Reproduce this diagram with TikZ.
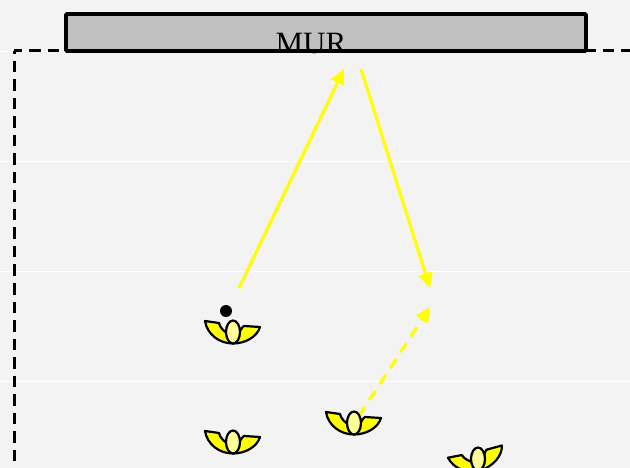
\documentclass[tikz,border=0pt]{standalone}
\usepackage{fontspec}
\setmainfont{Liberation Serif}
\usetikzlibrary{arrows.meta, shapes.geometric}
\definecolor{fond}{HTML}{F3F3F3}
\definecolor{gris}{HTML}{C0C0C0}
\definecolor{tete}{HTML}{FFFF99}
\definecolor{jaune}{RGB}{255,255,0}
\begin{document}
\begin{tikzpicture}[
x=1pt, y=-1pt,
passe/.style={jaune, line width=3.2pt, -{Triangle[length=15pt, width=14pt]}},
limite/.style={black, line width=3pt, dash pattern=on 11.5pt off 7pt},
mur/.style={rectangle, draw=black, fill=gris, line width=3.8pt, rounded corners=1pt, minimum width=520pt, minimum height=37pt, inner sep=0pt},
ligne/.style={white, line width=1pt},
ballon/.style={circle, fill=black, inner sep=0pt, minimum size=12pt},
tetej/.style={ellipse, draw=black, fill=tete, line width=2.2pt, inner sep=0pt, minimum width=14pt, minimum height=23pt},
joueur/.pic={
    \draw[black, fill=jaune, line width=2.2pt, line join=round]
        (-28,-11) -- (-14,-9) .. controls (-13,-4) and (-9,-1) .. (-4,3)
        -- (5,3) .. controls (7,-1) and (9,-5) .. (11,-6) -- (27,-5)
        .. controls (24,5) and (12,11.5) .. (0,11.5)
        .. controls (-14,11.5) and (-26,2) .. (-28,-11) -- cycle;
    \node[tetej] (tete) at (0,0) {};
},
]
\useasboundingbox (0,0) rectangle (630,468);
\fill[fond] (0,0) rectangle (630,468);
\foreach \y in {51.5,161.5,271.5,381.5}
    \draw[ligne] (0,\y) -- (630,\y);
\coordinate (coin) at (14,51);
\coordinate (bas) at (14,468);
\coordinate (droite) at (630,51);
\draw[limite, dash phase=8.5pt] (coin) -- (bas);
\draw[limite, dash phase=3.5pt] (coin) -- (droite);
\node[mur] (mur) at (326,32.5) {};
\node[font=\fontsize{31}{31}\selectfont, inner sep=0pt, anchor=base] (nom) at (311,54) {MUR};

\coordinate (a1) at (239,288);
\coordinate (b1) at (344,69);
\coordinate (a2) at (361,69);
\coordinate (b2) at (430,288);
\coordinate (a3) at (359,416);
\coordinate (b3) at (430,307);
\draw[passe] (a1) -- (b1);
\draw[passe] (a2) -- (b2);
\draw[passe, dash pattern=on 11pt off 8pt] (a3) -- (b3);

\pic (j1) at (233,332) {joueur};
\pic (j2) at (233,442) {joueur};
\pic (j3) at (354,423) {joueur};
\pic[rotate=19] (j4) at (478,459) {joueur};
\node[ballon] (balle) at (226,311) {};
\end{tikzpicture}
\end{document}
